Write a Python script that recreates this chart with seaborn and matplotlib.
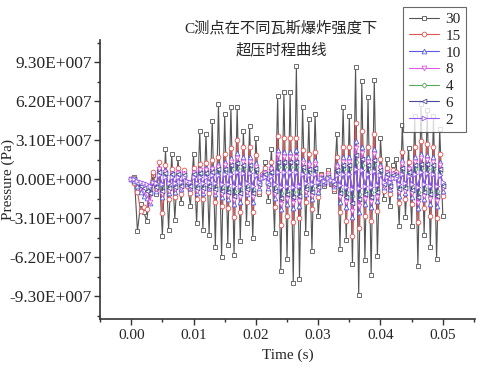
import numpy as np
import pandas as pd
import matplotlib
matplotlib.use("Agg")
import matplotlib.pyplot as plt
import seaborn as sns
from matplotlib.ticker import FuncFormatter, MultipleLocator

# sample times (s), 0.0005 s step
time = np.round(np.arange(101) * 0.0005, 4)

# pressure values, unit 1e7 Pa
p30 = [0.0, 0.2, -4.1, -2.0, -2.6, -3.3, -1.0, 0.3, -1.2, 0.8,
       -4.5, 2.4, -4.0, 2.0, -3.2, 1.7, -1.9, 0.5, -0.3, -2.1,
       2.0, -3.5, 3.8, -4.0, 3.6, -4.4, 4.6, -5.4, 6.0, -6.2,
       5.2, -5.2, 5.7, -6.0, 5.7, -4.9, 3.8, -3.5, 4.2, -4.7,
       3.3, -1.2, 0.3, 1.4, -1.7, 2.4, -4.3, 6.6, -7.3, 6.9,
       -6.3, 6.9, -8.2, 9.0, -7.9, 5.7, -4.3, 4.8, -5.7, 5.2,
       -2.9, 0.4, -0.5, 0.7, -0.4, -0.9, 3.6, -5.5, 5.7, -4.8,
       5.0, -6.7, 8.9, -9.2, 7.8, -6.4, 6.5, -7.6, 7.9, -6.1,
       3.3, -1.6, 1.6, -2.1, 1.1, 1.6, -3.7, 4.3, -3.0, 2.5,
       -3.7, 5.0, -6.9, 6.0, -4.4, 5.5, -5.4, 5.0, -6.3, 4.0,
       -2.9]
p15 = [0.0, -0.3, -1.0, -2.5, -2.2, -2.4, -0.5, 0.6, -0.8, 1.4,
       -2.7, 1.1, -1.6, 0.8, -1.4, 0.9, -1.2, 0.7, -0.5, -1.1,
       0.9, -1.6, 1.2, -1.6, 1.3, -1.1, 1.5, -1.8, 1.8, -2.1,
       2.0, -2.3, 2.5, -3.0, 3.1, -2.6, 2.6, -1.8, 2.6, -2.6,
       1.9, -1.0, 0.4, 0.9, -1.0, 1.4, -2.2, 3.4, -3.6, 3.3,
       -2.9, 3.3, -3.4, 3.3, -3.1, 2.3, -1.8, 2.0, -2.4, 2.2,
       -1.4, 0.3, -0.4, 0.5, -0.3, -0.8, 1.8, -2.6, 2.6, -3.3,
       2.6, -4.5, 4.5, -3.9, 3.8, -2.9, 2.6, -3.3, 3.6, -2.5,
       1.6, -0.9, 0.9, -1.2, 0.7, 0.6, -1.9, 2.2, -1.6, 1.4,
       -2.0, 2.6, -3.4, 3.0, -2.3, 2.8, -2.9, 2.6, -3.1, 2.0,
       -1.3]
p10 = [0.0, -0.1, -0.5, -1.0, -1.3, -1.5, -1.9, -0.2, -0.9, 0.9,
       -1.4, 0.7, -1.1, 0.5, -1.0, 0.6, -0.8, 0.5, -0.4, -0.7,
       0.6, -1.1, 0.8, -1.1, 0.9, -0.7, 1.0, -1.2, 1.2, -1.4,
       1.4, -1.6, 1.7, -2.0, 2.1, -1.8, 1.8, -1.2, 1.8, -1.8,
       1.3, -0.7, 0.3, 0.6, -0.7, 1.0, -1.5, 2.3, -2.4, 2.2,
       -2.0, 2.2, -2.3, 2.3, -2.1, 1.6, -1.2, 1.4, -1.6, 1.5,
       -1.0, 0.2, -0.3, 0.35, -0.2, -0.5, 1.2, -1.8, 1.8, -2.2,
       1.8, -3.0, 3.0, -2.6, 2.6, -2.0, 1.8, -2.2, 2.4, -1.7,
       1.1, -0.6, 0.6, -0.8, 0.5, 0.4, -1.3, 1.5, -1.1, 1.0,
       -1.4, 1.8, -2.3, 2.0, -1.6, 1.9, -2.0, 1.8, -2.1, 1.4,
       -0.9]
p8 = [0.0, 0.1, -0.3, -0.6, -0.9, -1.2, -1.8, -0.3, -0.8, 0.8,
      -1.2, 0.6, -0.9, 0.4, -0.8, 0.5, -0.7, 0.4, -0.3, -0.6,
      0.5, -0.9, 0.7, -0.9, 0.7, -0.6, 0.8, -1.0, 1.0, -1.2,
      1.1, -1.3, 1.4, -1.65, 1.7, -1.4, 1.4, -1.0, 1.4, -1.4,
      1.0, -0.55, 0.2, 0.5, -0.55, 0.8, -1.2, 1.9, -2.0, 1.8,
      -1.6, 1.8, -1.9, 1.8, -1.7, 1.3, -1.0, 1.1, -1.3, 1.2,
      -0.8, 0.2, -0.2, 0.3, -0.2, -0.45, 1.0, -1.4, 1.4, -1.8,
      1.4, -2.5, 2.5, -2.1, 2.1, -1.6, 1.4, -1.8, 2.0, -1.4,
      0.9, -0.5, 0.5, -0.65, 0.4, 0.3, -1.0, 1.2, -0.9, 0.8,
      -1.1, 1.4, -1.9, 1.65, -1.3, 1.5, -1.6, 1.4, -1.7, 1.1,
      -0.7]
p4 = [0.0, 0.1, -0.2, -0.4, -0.5, -0.6, -0.7, -0.2, -0.4, 0.4,
      -0.6, 0.3, -0.5, 0.3, -0.4, 0.3, -0.4, 0.25, -0.2, -0.3,
      0.3, -0.5, 0.4, -0.5, 0.4, -0.3, 0.45, -0.5, 0.5, -0.6,
      0.6, -0.7, 0.75, -0.9, 0.9, -0.8, 0.8, -0.5, 0.8, -0.8,
      0.6, -0.3, 0.1, 0.3, -0.3, 0.4, -0.7, 1.0, -1.1, 1.0,
      -0.9, 1.0, -1.0, 1.0, -0.9, 0.7, -0.5, 0.6, -0.7, 0.65,
      -0.4, 0.1, -0.1, 0.15, -0.1, -0.25, 0.55, -0.8, 0.8, -1.0,
      0.8, -1.35, 1.35, -1.2, 1.1, -0.9, 0.8, -1.0, 1.1, -0.75,
      0.5, -0.3, 0.3, -0.35, 0.2, 0.2, -0.6, 0.65, -0.5, 0.4,
      -0.6, 0.8, -1.0, 0.9, -0.7, 0.85, -0.9, 0.8, -0.9, 0.6,
      -0.4]
p6 = [0.0, 0.0, -0.3, -0.5, -0.7, -0.9, -1.1, -0.3, -0.6, 0.6,
      -0.9, 0.5, -0.7, 0.4, -0.6, 0.4, -0.5, 0.3, -0.3, -0.5,
      0.4, -0.7, 0.5, -0.7, 0.5, -0.5, 0.6, -0.8, 0.8, -0.9,
      0.8, -1.0, 1.1, -1.3, 1.3, -1.1, 1.1, -0.8, 1.1, -1.1,
      0.8, -0.4, 0.2, 0.4, -0.4, 0.6, -0.9, 1.4, -1.5, 1.4,
      -1.2, 1.4, -1.4, 1.4, -1.3, 1.0, -0.8, 0.8, -1.0, 0.9,
      -0.6, 0.1, -0.2, 0.2, -0.1, -0.35, 0.75, -1.1, 1.1, -1.4,
      1.1, -1.9, 1.9, -1.6, 1.6, -1.2, 1.1, -1.4, 1.5, -1.05,
      0.7, -0.4, 0.4, -0.5, 0.3, 0.25, -0.8, 0.9, -0.7, 0.6,
      -0.85, 1.1, -1.4, 1.25, -1.0, 1.2, -1.2, 1.1, -1.3, 0.85,
      -0.55]
p2 = [0.0, 0.0, -0.1, -0.2, -0.3, -0.4, -0.5, -0.2, -0.3, 0.3,
      -0.4, 0.2, -0.3, 0.2, -0.3, 0.2, -0.2, 0.2, -0.1, -0.2,
      0.2, -0.3, 0.2, -0.3, 0.2, -0.2, 0.3, -0.3, 0.3, -0.4,
      0.4, -0.4, 0.45, -0.5, 0.55, -0.5, 0.5, -0.3, 0.5, -0.5,
      0.3, -0.2, 0.1, 0.2, -0.2, 0.25, -0.4, 0.6, -0.65, 0.6,
      -0.5, 0.6, -0.6, 0.6, -0.55, 0.4, -0.3, 0.35, -0.4, 0.4,
      -0.25, 0.1, -0.1, 0.1, -0.05, -0.15, 0.3, -0.45, 0.45, -0.6,
      0.45, -0.8, 0.8, -0.7, 0.7, -0.5, 0.45, -0.6, 0.65, -0.45,
      0.3, -0.2, 0.2, -0.2, 0.1, 0.1, -0.35, 0.4, -0.3, 0.25,
      -0.35, 0.45, -0.6, 0.55, -0.4, 0.5, -0.5, 0.45, -0.55, 0.35,
      -0.25]

labels = ["30", "15", "10", "8", "4", "6", "2"]
values = [p30, p15, p10, p8, p4, p6, p2]
colors = ["#555555", "#e05555", "#5a5ae0", "#e05ae0", "#5aaa5a", "#4a4a9a", "#9a5af0"]
markers = ["s", "o", "^", "v", "D", "<", ">"]
msizes = [3.2, 3.4, 3.4, 3.4, 2.6, 3.4, 3.4]

sns.set_style("ticks")
plt.rcParams["font.family"] = ["Liberation Serif", "Noto Sans CJK SC"]
plt.rcParams["axes.unicode_minus"] = False

fig = plt.figure(figsize=(4.81, 3.68), dpi=100)
ax = fig.add_axes([0.208, 0.133, 0.780, 0.758])

for lab, vals, c, m, ms in zip(labels, values, colors, markers, msizes):
    df = pd.DataFrame({"t": time, "p": np.array(vals) * 1e7})
    sns.lineplot(data=df, x="t", y="p", ax=ax, color=c, lw=0.8,
                 marker=m, ms=ms, mfc="white", mec=c, mew=0.6, label=lab)

ax.set_xlim(-0.005, 0.0552)
ax.set_ylim(-11.1e7, 11.05e7)
ax.xaxis.set_major_locator(MultipleLocator(0.01))
ax.xaxis.set_minor_locator(MultipleLocator(0.005))
ax.yaxis.set_major_locator(MultipleLocator(3.1e7))
ax.yaxis.set_minor_locator(MultipleLocator(1.55e7))


def yfmt(v, pos):
    if abs(v) < 1:
        return "0.00E+000"
    return f"{v / 1e7:.2f}E+007"


ax.yaxis.set_major_formatter(FuncFormatter(yfmt))
ax.xaxis.set_major_formatter(FuncFormatter(lambda v, p: f"{v:.2f}"))
ax.tick_params(which="major", length=4, width=1, color="#333333")
ax.tick_params(which="minor", length=2.5, width=1, color="#333333")
ax.tick_params(axis="x", labelsize=11)
ax.tick_params(axis="y", labelsize=12.5, pad=2)
sns.despine(ax=ax)
for s in ["left", "bottom"]:
    ax.spines[s].set_linewidth(1.2)
    ax.spines[s].set_color("#333333")

ax.set_xlabel("Time (s)", fontsize=11)
ax.set_ylabel("Pressure (Pa)", fontsize=11)
ax.yaxis.set_label_coords(-0.226, 0.5)

fig.text(0.584, 0.894, "C测点在不同瓦斯爆炸强度下\n超压时程曲线", ha="center", va="center",
         fontsize=11, linespacing=1.6)

leg = ax.legend(loc="upper right", bbox_to_anchor=(0.969, 0.981),
                bbox_transform=fig.transFigure, fontsize=11, frameon=True,
                fancybox=False, handlelength=2.0, handletextpad=0.4,
                borderpad=0.35, labelspacing=0.2, borderaxespad=0)
leg.get_frame().set_edgecolor("#444444")
leg.get_frame().set_linewidth(0.8)

fig.savefig("out.png", dpi=100)
